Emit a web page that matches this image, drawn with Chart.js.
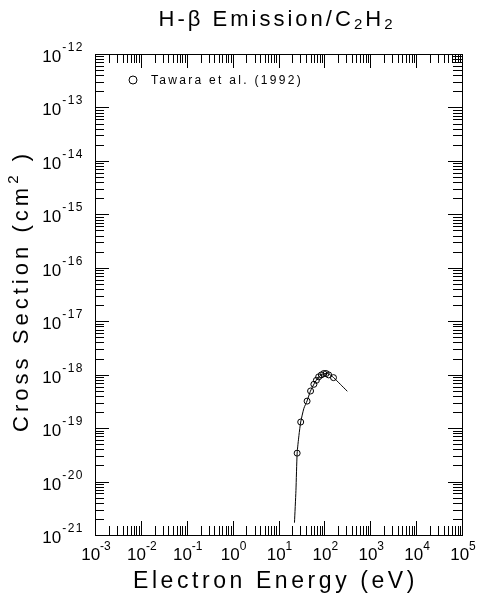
<!DOCTYPE html>
<html>
<head>
<meta charset="utf-8">
<script src="https://cdn.jsdelivr.net/npm/chart.js@4/dist/chart.umd.min.js"></script>
<style>
  html, body { margin: 0; padding: 0; background: #fff; }
  #chart { display: block; }
</style>
</head>
<body>
<canvas id="chart" width="482" height="601"></canvas>
<script>
// Tawara et al. (1992) measured points
const tawaraEnergy = [25.5, 30.5, 42, 50, 59, 67, 75, 86, 97, 109, 124, 158];
const tawaraSigma = [3.4e-20, 1.3e-19, 3.2e-19, 4.95e-19, 6.6e-19, 7.85e-19, 9.1e-19, 9.9e-19, 1.05e-18, 1.05e-18, 9.9e-19, 8.8e-19];

// recommended (fitted) curve
const fitEnergy = [22.3, 24, 25.5, 27.9, 30.5, 35.8, 42, 49.6, 60.7, 74, 95, 122, 157, 223, 316];
const fitSigma = [1.7e-21, 6.8e-21, 3.4e-20, 7.3e-20, 1.3e-19, 2.35e-19, 3.23e-19, 4.9e-19, 6.9e-19, 8.9e-19, 1.04e-18, 1.04e-18, 8.9e-19, 6.6e-19, 4.9e-19];

// tick labels (decade exponents)
const xTickExps = [-3, -2, -1, 0, 1, 2, 3, 4, 5];
const yTickExps = [-21, -20, -19, -18, -17, -16, -15, -14, -13, -12];
const minorSteps = [2, 3, 4, 5, 6, 7, 8, 9];

const FONT = '"Liberation Sans", Arial, sans-serif';

// draw a row of text runs (for sub/superscripts), centred on cx, stretched to width
function drawRuns(ctx, runs, cx, y, width) {
  let natural = 0, chars = 0;
  ctx.letterSpacing = "0px";
  runs.forEach(r => {
    ctx.font = r.font;
    natural += ctx.measureText(r.t).width;
    chars += r.t.length;
  });
  const sp = width ? (width - natural) / chars : 0;
  ctx.letterSpacing = sp + "px";
  let total = 0;
  runs.forEach(r => { ctx.font = r.font; total += ctx.measureText(r.t).width; });
  let x = cx - total / 2;
  ctx.textAlign = "left";
  ctx.textBaseline = "alphabetic";
  runs.forEach(r => {
    ctx.font = r.font;
    ctx.fillText(r.t, x, y + (r.dy || 0));
    x += ctx.measureText(r.t).width;
  });
  ctx.letterSpacing = "0px";
}

function sup(e) { return e < 0 ? "-" + Math.abs(e) : String(e); }

const frame = {
  id: "frame",
  afterDraw(chart) {
    const { ctx, chartArea: a, scales } = chart;
    const xs = scales.x, ys = scales.y;
    ctx.save();
    ctx.strokeStyle = "#000";
    ctx.fillStyle = "#000";
    ctx.lineWidth = 1;
    ctx.strokeRect(Math.round(a.left) + 0.5, Math.round(a.top) + 0.5,
      Math.round(a.right - a.left), Math.round(a.bottom - a.top));

    const MAJ = 14, MIN = 9;
    ctx.beginPath();
    xTickExps.forEach((e, i) => {
      const v = Math.pow(10, e);
      const steps = [1].concat(i < xTickExps.length - 1 ? minorSteps : []);
      steps.forEach(m => {
        const px = Math.round(xs.getPixelForValue(v * m)) + 0.5;
        const len = m === 1 ? MAJ : MIN;
        ctx.moveTo(px, a.bottom); ctx.lineTo(px, a.bottom - len);
        ctx.moveTo(px, a.top); ctx.lineTo(px, a.top + len);
      });
    });
    yTickExps.forEach((e, i) => {
      const v = Math.pow(10, e);
      const steps = [1].concat(i < yTickExps.length - 1 ? minorSteps : []);
      steps.forEach(m => {
        const py = Math.round(ys.getPixelForValue(v * m)) + 0.5;
        const len = m === 1 ? MAJ : MIN;
        ctx.moveTo(a.left, py); ctx.lineTo(a.left + len, py);
        ctx.moveTo(a.right, py); ctx.lineTo(a.right - len, py);
      });
    });
    ctx.stroke();

    // tick labels
    const big = "17px " + FONT, small = "12px " + FONT;
    ctx.textBaseline = "alphabetic";
    xTickExps.forEach(e => {
      const px = xs.getPixelForValue(Math.pow(10, e));
      drawRuns(ctx, [{ t: "10", font: big }, { t: sup(e), font: small, dy: -10 }], px + 1, a.bottom + 25, 0);
    });
    yTickExps.forEach(e => {
      const py = ys.getPixelForValue(Math.pow(10, e));
      ctx.font = small;
      ctx.letterSpacing = "1.5px";
      const s = sup(e);
      const sw = ctx.measureText(s).width;
      ctx.textAlign = "left";
      ctx.fillText(s, a.left - 11 - sw, py - 3);
      ctx.letterSpacing = "0px";
      ctx.font = big;
      ctx.textAlign = "right";
      ctx.fillText("10", a.left - 11 - sw - 1, py + 8);
    });

    // title
    const tf = "22px " + FONT, tsub = "15px " + FONT;
    drawRuns(ctx, [
      { t: "H-β Emission/C", font: tf },
      { t: "2", font: tsub, dy: 3 },
      { t: "H", font: tf },
      { t: "2", font: tsub, dy: 3 }
    ], 277, 26, 237);

    // x-axis title
    drawRuns(ctx, [{ t: "Electron Energy (eV)", font: "23px " + FONT }], 275.5, 588, 285);

    // y-axis title
    ctx.save();
    ctx.translate(28, 291);
    ctx.rotate(-Math.PI / 2);
    drawRuns(ctx, [
      { t: "Cross Section (cm", font: "22px " + FONT },
      { t: "2", font: "15px " + FONT, dy: -10 },
      { t: " )", font: "22px " + FONT }
    ], 0, 0, 282);
    ctx.restore();

    // legend
    ctx.beginPath();
    ctx.arc(133, 80, 4, 0, Math.PI * 2);
    ctx.stroke();
    ctx.font = "12px " + FONT;
    ctx.letterSpacing = "2.3px";
    ctx.textAlign = "left";
    ctx.fillText("Tawara et al. (1992)", 151, 84);
    ctx.letterSpacing = "0px";

    ctx.restore();
  }
};

new Chart(document.getElementById("chart"), {
  type: "scatter",
  data: {
    datasets: [
      {
        label: "fit",
        data: fitEnergy.map((x, i) => ({ x, y: fitSigma[i] })),
        showLine: true,
        borderColor: "#000",
        borderWidth: 1,
        pointRadius: 0,
        tension: 0.2,
        fill: false
      },
      {
        label: "Tawara et al. (1992)",
        data: tawaraEnergy.map((x, i) => ({ x, y: tawaraSigma[i] })),
        showLine: false,
        pointStyle: "circle",
        pointRadius: 3,
        borderColor: "#000",
        borderWidth: 1,
        backgroundColor: "rgba(0,0,0,0)"
      }
    ]
  },
  options: {
    responsive: false,
    animation: false,
    layout: { padding: { left: 95, top: 54, right: 20, bottom: 66 } },
    plugins: { legend: { display: false }, tooltip: { enabled: false } },
    scales: {
      x: { type: "logarithmic", min: 1e-3, max: 1e5, display: false },
      y: { type: "logarithmic", min: 1e-21, max: 1e-12, display: false }
    }
  },
  plugins: [frame]
});
</script>
</body>
</html>
